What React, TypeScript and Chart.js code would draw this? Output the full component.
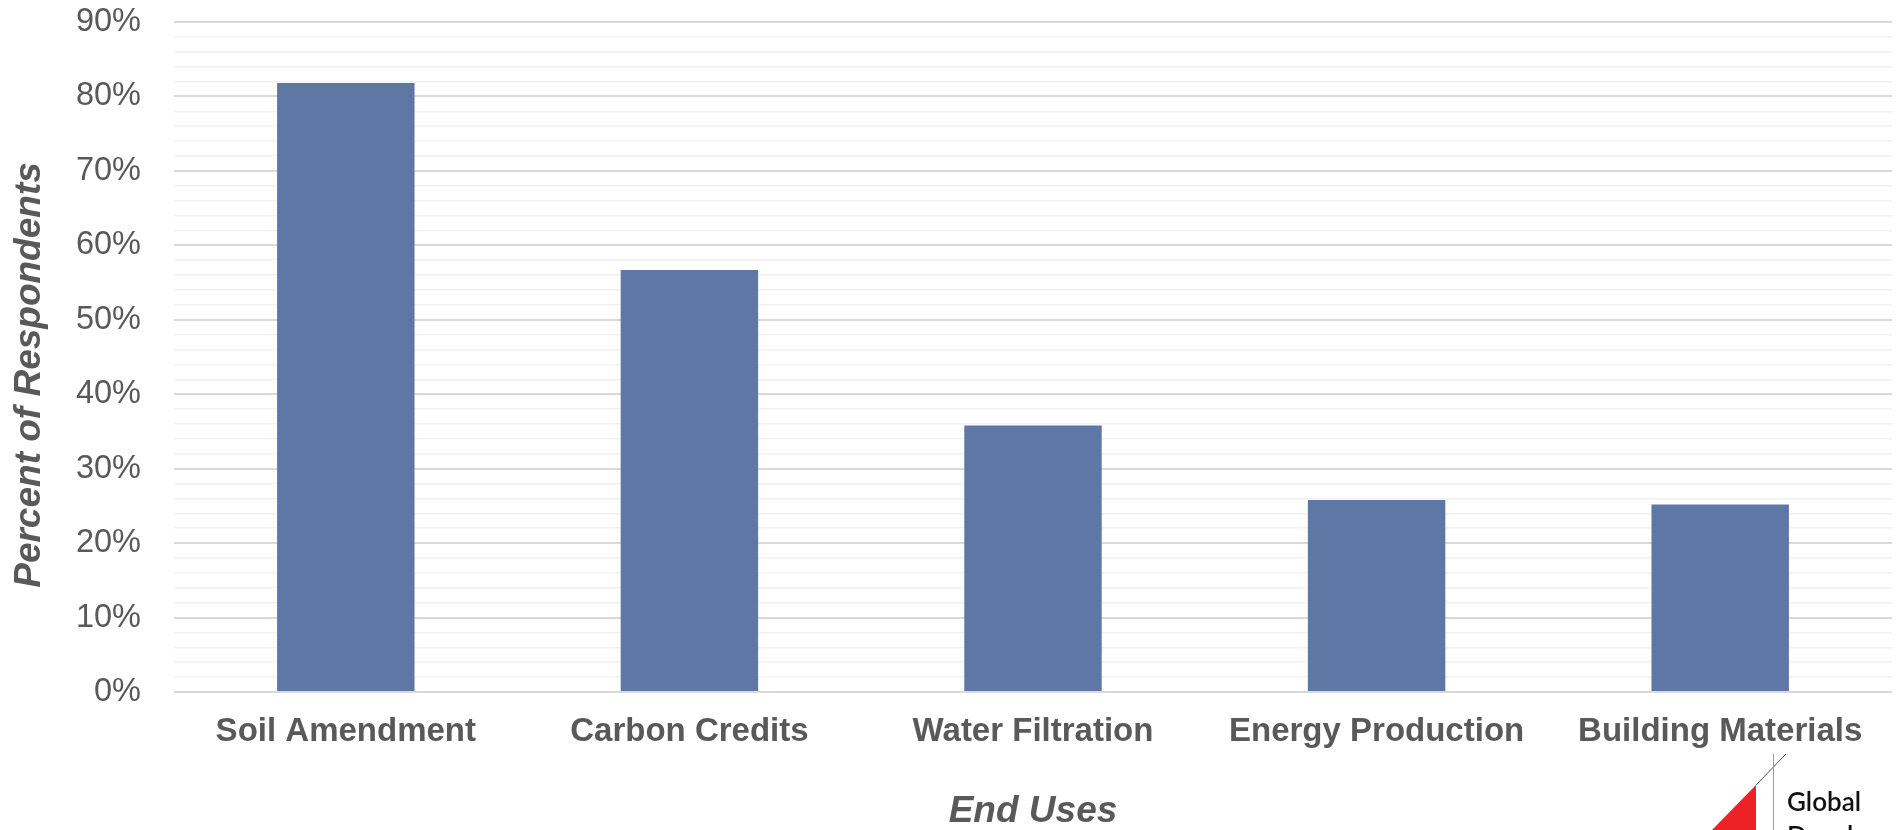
import React, { useEffect, useRef } from "react";
import { Chart, registerables } from "chart.js";

Chart.register(...registerables);

const categories = [
  "Soil Amendment",
  "Carbon Credits",
  "Water Filtration",
  "Energy Production",
  "Building Materials",
];
const percentValues = [81.8, 56.7, 35.8, 25.8, 25.2];
const yMin = 0;
const yMax = 90;
const yMinorStep = 2;
const yMajorStep = 10;
const xAxisTitle = "End Uses";
const yAxisTitle = "Percent of Respondents";
const logoLines = ["Global", "Development"];

const FONT = "'Liberation Sans', Arial, sans-serif";
const TEXT = "#595959";

const overlayPlugin = {
  id: "overlay",
  afterDraw(chart: any) {
    const { ctx, chartArea, width, height } = chart;
    ctx.save();
    // y axis title
    ctx.fillStyle = TEXT;
    ctx.font = `italic bold 37px ${FONT}`;
    ctx.textAlign = "center";
    ctx.textBaseline = "middle";
    ctx.translate(30, chartArea.top + (chartArea.bottom - chartArea.top) / 2 + 18);
    ctx.rotate(-Math.PI / 2);
    ctx.fillText(yAxisTitle, 0, 0);
    ctx.restore();

    // logo
    ctx.save();
    const bx = width - 192;
    const by = height;
    ctx.fillStyle = "#ec2227";
    ctx.beginPath();
    ctx.moveTo(bx, by);
    ctx.lineTo(bx + 44, by - 45);
    ctx.lineTo(bx + 44, by);
    ctx.closePath();
    ctx.fill();
    ctx.strokeStyle = "#555555";
    ctx.lineWidth = 1;
    ctx.beginPath();
    ctx.moveTo(bx + 44, by - 45);
    ctx.lineTo(bx + 74, by - 76);
    ctx.stroke();
    ctx.strokeStyle = "#9a9a9a";
    ctx.beginPath();
    ctx.moveTo(bx + 61.5, by - 76);
    ctx.lineTo(bx + 61.5, by);
    ctx.stroke();
    ctx.fillStyle = "#111111";
    ctx.font = `600 26px Lato, 'Noto Sans', sans-serif`;
    ctx.textAlign = "left";
    ctx.textBaseline = "alphabetic";
    ctx.fillText(logoLines[0], bx + 75, by - 19);
    ctx.fillText(logoLines[1], bx + 75, by + 15);
    ctx.restore();
  },
};

export default function App() {
  const canvasRef = useRef<HTMLCanvasElement | null>(null);

  useEffect(() => {
    document.body.style.margin = "0";
    const canvas = canvasRef.current;
    if (!canvas) return;
    const chart = new Chart(canvas, {
      type: "bar",
      data: {
        labels: categories,
        datasets: [
          {
            data: percentValues,
            backgroundColor: "#5f77a5",
            borderWidth: 0,
            categoryPercentage: 1,
            barPercentage: 0.4,
          },
        ],
      },
      plugins: [overlayPlugin],
      options: {
        animation: false,
        responsive: true,
        maintainAspectRatio: false,
        devicePixelRatio: 1,
        layout: { padding: { top: 22, right: 12, left: 0, bottom: 0 } },
        plugins: {
          legend: { display: false },
          tooltip: { enabled: false },
        },
        scales: {
          x: {
            grid: { display: false, drawTicks: false },
            border: { display: false },
            ticks: {
              color: TEXT,
              padding: 20,
              autoSkip: false,
              maxRotation: 0,
              font: { family: FONT, size: 33, weight: "bold" },
            },
            title: {
              display: true,
              text: xAxisTitle,
              color: TEXT,
              padding: { top: 0, bottom: 0 },
              font: { family: FONT, size: 37, weight: "bold", style: "italic", lineHeight: 1 },
            },
            afterFit: (scale: any) => {
              scale.height = 138;
              scale.paddingLeft = 0;
              scale.paddingRight = 0;
            },
          },
          y: {
            min: yMin,
            max: yMax,
            grid: {
              drawTicks: false,
              color: (ctx: any) =>
                ctx.tick && ctx.tick.value % yMajorStep === 0 ? "#d9d9d9" : "#f1f1f1",
              lineWidth: (ctx: any) =>
                ctx.tick && ctx.tick.value % yMajorStep === 0 ? 2 : 1.5,
            },
            border: { display: false },
            ticks: {
              stepSize: yMinorStep,
              autoSkip: false,
              color: TEXT,
              padding: 33,
              font: { family: FONT, size: 32.5 },
              callback: (v: any) => (Number(v) % yMajorStep === 0 ? `${v}%` : ""),
            },
            afterFit: (scale: any) => {
              scale.width = 174;
              scale.paddingTop = 0;
              scale.paddingBottom = 0;
            },
          },
        },
      },
    } as any);
    return () => chart.destroy();
  }, []);

  return (
    <div style={{ position: "absolute", left: 0, top: 0, width: 1904, height: 830 }}>
      <canvas ref={canvasRef} />
    </div>
  );
}
